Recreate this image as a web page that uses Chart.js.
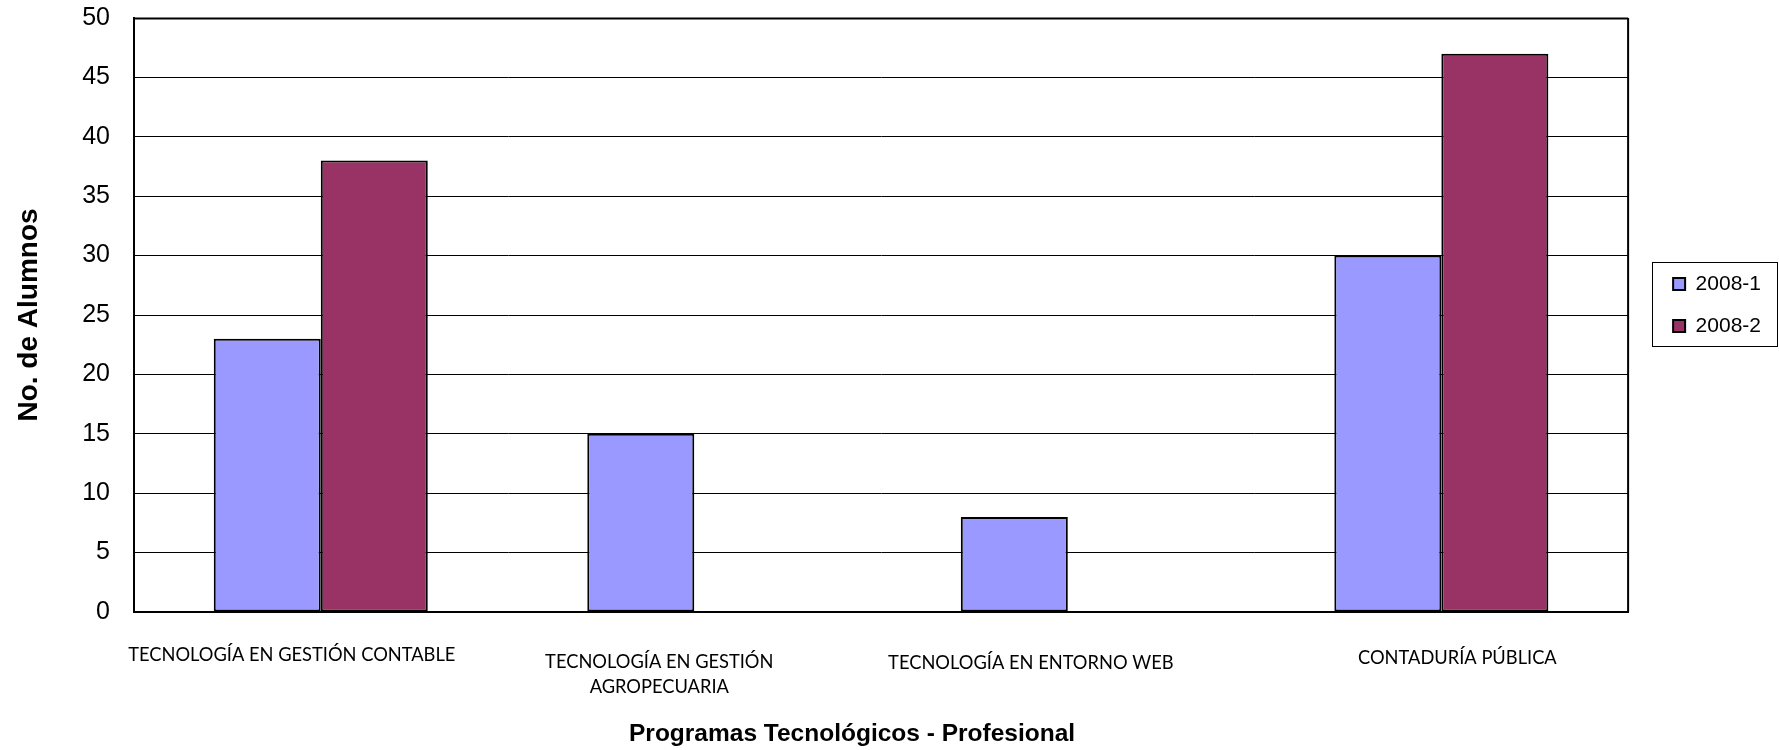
<!DOCTYPE html>
<html>
<head>
<meta charset="utf-8">
<script src="https://cdn.jsdelivr.net/npm/chart.js@4/dist/chart.umd.min.js"></script>
<style>
html,body{margin:0;padding:0;background:#fff;}
#wrap{position:relative;width:1779px;height:750px;}
</style>
</head>
<body>
<div id="wrap"><canvas id="c" width="1779" height="750"></canvas></div>
<script>
const categories = [
  ['TECNOLOGÍA EN GESTIÓN CONTABLE'],
  ['TECNOLOGÍA EN GESTIÓN', 'AGROPECUARIA'],
  ['TECNOLOGÍA EN ENTORNO WEB'],
  ['CONTADURÍA PÚBLICA']
];
const seriesNames = ['2008-1', '2008-2'];
const series2008_1 = [23, 15, 8, 30];
const series2008_2 = [38, null, null, 47];
const yMin = 0, yMax = 50, yStep = 5;
const xTitle = 'Programas Tecnológicos - Profesional';
const yTitle = 'No. de Alumnos';

// label placement tweaks (layout only)
const labelDx = [-29, -35, -37, 16];
const labelBaseline = [49, 56, 57, 52];
const labelLineH = 25;

const zeroPad = s => { s.paddingTop = 0; s.paddingBottom = 0; s.paddingLeft = 0; s.paddingRight = 0; };

const customText = {
  id: 'customText',
  beforeDatasetsDraw(chart) {
    const {ctx, chartArea: a} = chart;
    ctx.save();
    ctx.strokeStyle = '#000';
    ctx.lineWidth = 2;
    ctx.beginPath();
    ctx.moveTo(a.left, a.top + 0.5);
    ctx.lineTo(a.right, a.top + 0.5);
    ctx.moveTo(a.right, a.top);
    ctx.lineTo(a.right, a.bottom);
    ctx.stroke();
    ctx.restore();
  },
  afterDraw(chart) {
    const {ctx, chartArea: a} = chart;
    const xs = chart.scales.x;
    ctx.save();
    ctx.fillStyle = '#000';
    ctx.font = '18.3px Lato';
    ctx.textAlign = 'center';
    ctx.textBaseline = 'alphabetic';
    categories.forEach((lines, i) => {
      const cx = xs.getPixelForValue(i) + labelDx[i];
      lines.forEach((t, j) => ctx.fillText(t, cx, a.bottom + labelBaseline[i] + j * labelLineH));
    });
    ctx.font = 'bold 24.5px "Liberation Sans"';
    ctx.fillText(xTitle, (a.left + a.right) / 2 - 29, 741);
    // legend frame
    const lg = chart.legend;
    const hb = lg.legendHitBoxes;
    if (hb && hb.length) {
      const c0 = hb[0].top + hb[0].height / 2;
      const c1 = hb[hb.length - 1].top + hb[hb.length - 1].height / 2;
      ctx.strokeStyle = '#000';
      ctx.lineWidth = 1;
      ctx.strokeRect(Math.round(lg.left) + 0.5, Math.round(c0 - 22) + 0.5, chart.width - 2 - Math.round(lg.left), Math.round(c1 - c0 + 42));
    }
    ctx.restore();
  }
};

new Chart(document.getElementById('c'), {
  type: 'bar',
  data: {
    labels: categories,
    datasets: [
      { label: seriesNames[0], data: series2008_1, backgroundColor: '#9999FF', borderColor: '#000', borderWidth: 2, borderSkipped: false },
      { label: seriesNames[1], data: series2008_2, backgroundColor: '#993366', borderColor: '#000', borderWidth: 2, borderSkipped: false }
    ]
  },
  options: {
    responsive: false,
    animation: false,
    devicePixelRatio: 1,
    layout: { padding: { left: 0, top: 18, right: 8, bottom: 0 } },
    datasets: { bar: { barPercentage: 1, categoryPercentage: 0.573 } },
    plugins: {
      legend: {
        position: 'right',
        align: 'start',
        fullSize: false,
        title: { display: true, text: '', font: { size: 10 }, padding: { top: 222.5, bottom: 0 } },
        labels: {
          boxWidth: 12, boxHeight: 12, padding: 21, color: '#000',
          font: { family: 'Liberation Sans', size: 21 }
        }
      },
      tooltip: { enabled: false }
    },
    scales: {
      x: {
        grid: { display: false },
        border: { color: '#000', width: 2 },
        ticks: { display: false },
        afterFit: s => { s.height = 138; zeroPad(s); }
      },
      y: {
        min: yMin, max: yMax,
        ticks: { stepSize: yStep, color: '#000', padding: 24, font: { family: 'Liberation Sans', size: 25 } },
        grid: { color: '#000', lineWidth: 1, drawTicks: false },
        border: { color: '#000', width: 2 },
        title: { display: true, text: yTitle, color: '#000', font: { family: 'Liberation Sans', size: 28, weight: 'bold' }, padding: { top: 12, bottom: 0 } },
        afterFit: s => { s.width = 134; zeroPad(s); }
      },
      gap: {
        type: 'linear', position: 'right', display: true,
        grid: { display: false }, ticks: { display: false }, border: { display: false },
        afterFit: s => { s.width = 24; zeroPad(s); }
      }
    }
  },
  plugins: [customText]
});
</script>
</body>
</html>
